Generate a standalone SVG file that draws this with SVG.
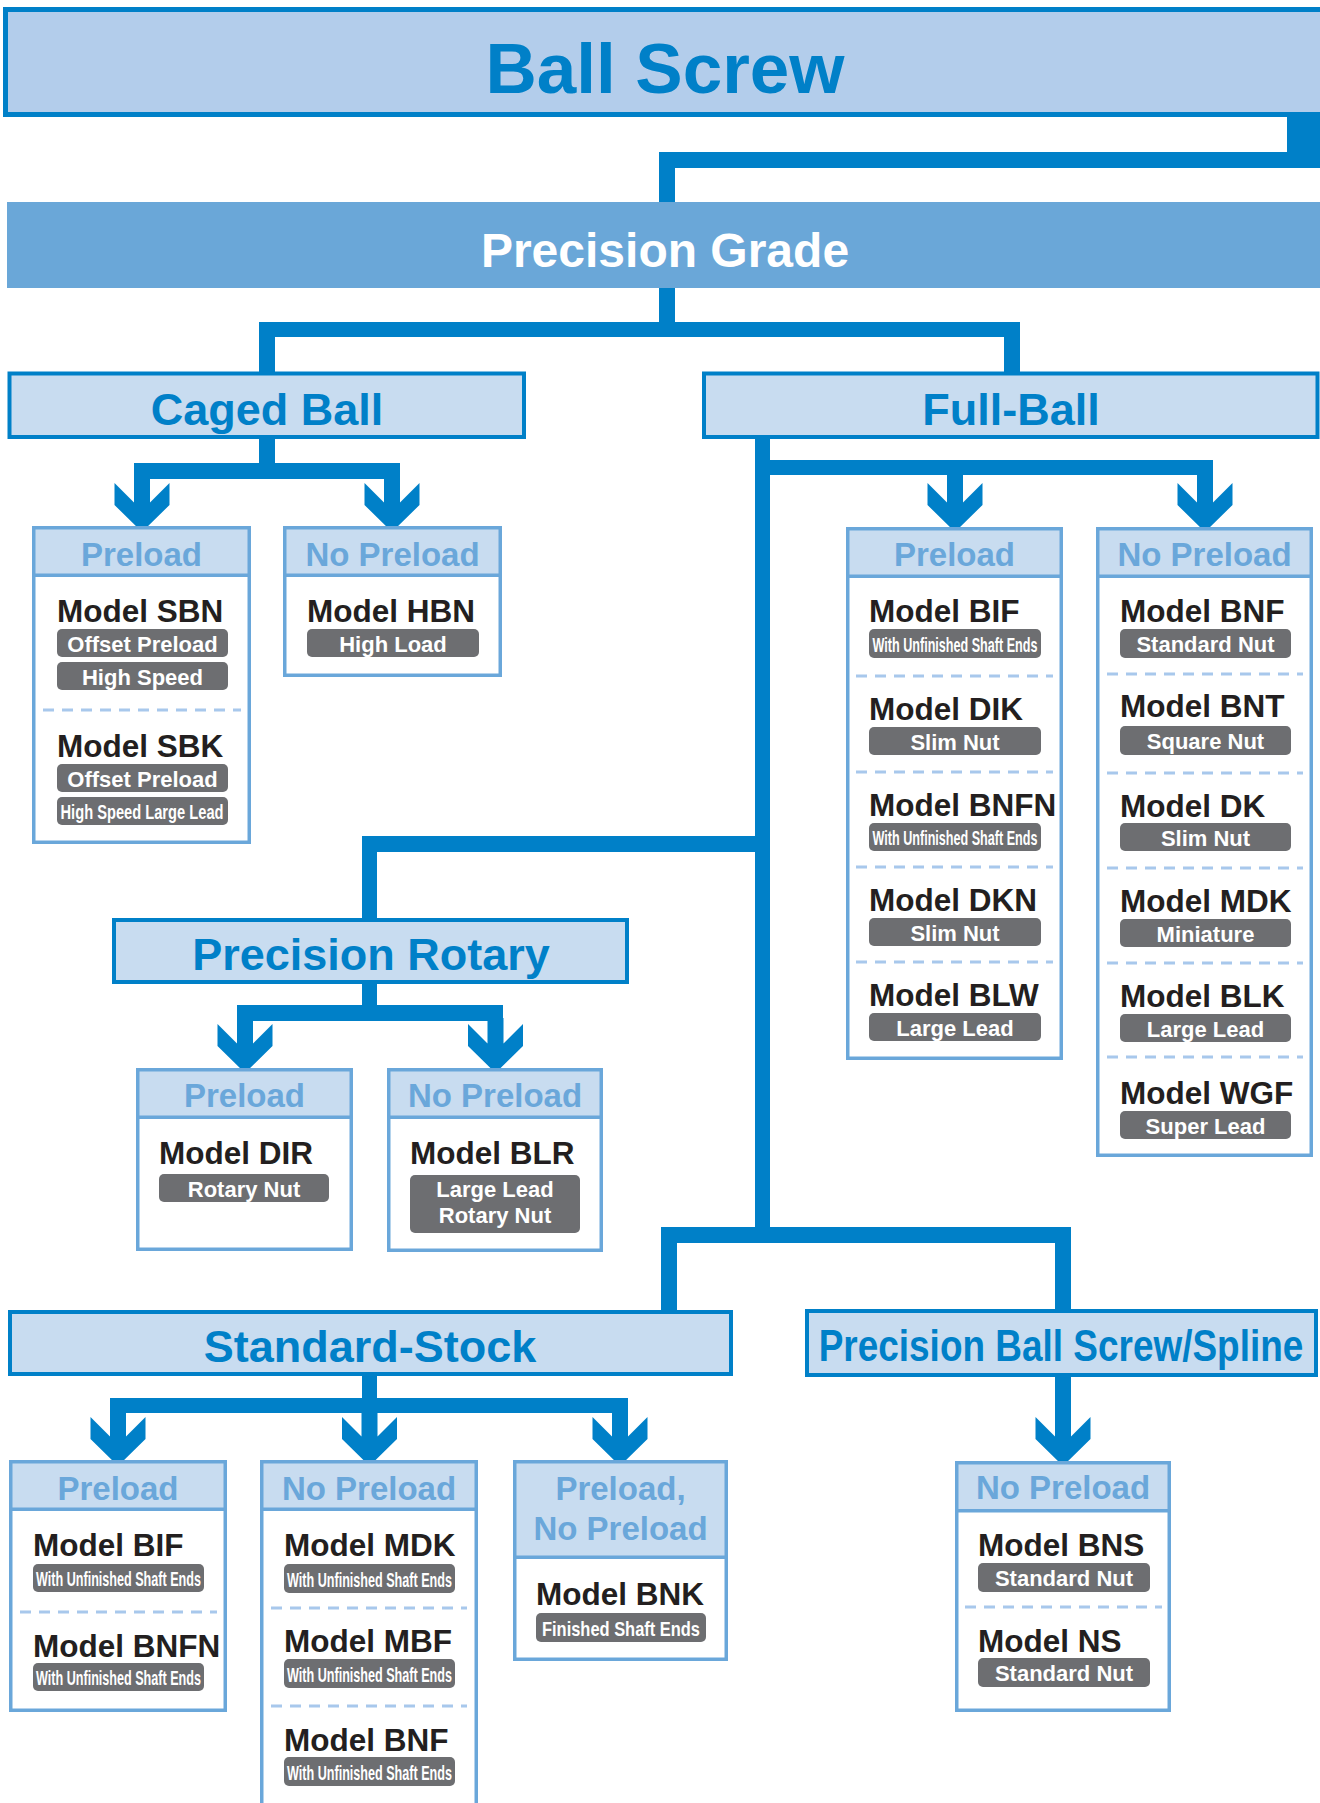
<svg xmlns="http://www.w3.org/2000/svg" xmlns:xlink="http://www.w3.org/1999/xlink" width="1320" height="1803" viewBox="0 0 1320 1803">
<style>
.cat{fill:#C8DCF0;stroke:#0080C8;stroke-width:4}
.ct{font:bold 45px "Liberation Sans",Arial,sans-serif;fill:#0080C8;text-anchor:middle}
.sb{fill:#fff;stroke:#6AA7DA;stroke-width:3.5}
.sh{fill:#C8DCF0;stroke:#6AA7DA;stroke-width:3.5}
.ht{font:bold 33px "Liberation Sans",Arial,sans-serif;fill:#6AA7DA;text-anchor:middle}
.m{font:bold 31.5px "Liberation Sans",Arial,sans-serif;fill:#231F20}
.tg{fill:#6D6E71}
.tt{font:bold 22px "Liberation Sans",Arial,sans-serif;fill:#fff;text-anchor:middle}
.tc{font:bold 21px "Liberation Sans",Arial,sans-serif;fill:#fff;text-anchor:middle}
.d{stroke:#A8C8EC;stroke-width:3;stroke-dasharray:11 8;fill:none}
.c{fill:#0080C8}
</style>
<defs>
<path id="ah" class="c" d="M-8,-6 V19.5 L-27.5,0 V22 L0,49 L27.5,22 V0 L8,19.5 V-6 Z"/>
</defs>
<rect width="1320" height="1803" fill="#fff"/>

<g id="connectors" class="c">
<rect x="1287" y="115" width="33" height="53"/>
<rect x="659" y="152" width="661" height="16"/>
<rect x="659" y="152" width="16" height="52"/>
<rect x="659" y="286" width="16" height="51"/>
<rect x="259" y="322" width="761" height="15"/>
<rect x="259" y="322" width="16" height="51"/>
<rect x="1004" y="322" width="16" height="51"/>
<rect x="259" y="437" width="16" height="42"/>
<rect x="134" y="463" width="266" height="16"/>
<rect x="134" y="463" width="16" height="26"/>
<rect x="384" y="463" width="16" height="26"/>
<use xlink:href="#ah" x="142" y="483"/>
<use xlink:href="#ah" x="392" y="483"/>
<rect x="755" y="437" width="15" height="806"/>
<rect x="755" y="460" width="458" height="15"/>
<rect x="947" y="460" width="16" height="29"/>
<rect x="1197" y="460" width="16" height="29"/>
<use xlink:href="#ah" x="955" y="483"/>
<use xlink:href="#ah" x="1205" y="483"/>
<rect x="362" y="836" width="408" height="16"/>
<rect x="362" y="836" width="15" height="84"/>
<rect x="362" y="982" width="15" height="39"/>
<rect x="237" y="1005" width="266" height="16"/>
<rect x="237" y="1005" width="16" height="25"/>
<rect x="488" y="1005" width="15" height="25"/>
<use xlink:href="#ah" x="245" y="1024"/>
<use xlink:href="#ah" x="495.5" y="1024"/>
<rect x="661" y="1227" width="410" height="16"/>
<rect x="661" y="1227" width="16" height="85"/>
<rect x="1055" y="1227" width="16" height="84"/>
<rect x="362" y="1374" width="15" height="39"/>
<rect x="110" y="1398" width="518" height="15"/>
<rect x="110" y="1398" width="16" height="25"/>
<rect x="362" y="1398" width="15" height="25"/>
<rect x="612" y="1398" width="16" height="25"/>
<use xlink:href="#ah" x="118" y="1417"/>
<use xlink:href="#ah" x="369.5" y="1417"/>
<use xlink:href="#ah" x="620" y="1417"/>
<rect x="1055" y="1375" width="16" height="48"/>
<use xlink:href="#ah" x="1063" y="1417"/>
</g>

<g id="ball-screw">
<rect x="5.5" y="9.5" width="1330" height="105" fill="#B3CDEB" stroke="#0080C8" stroke-width="5"/>
<text x="665" y="93" style="font:bold 71px 'Liberation Sans',Arial,sans-serif;fill:#0080C8;text-anchor:middle">Ball Screw</text>
</g>

<g id="precision-grade">
<rect x="7" y="202" width="1320" height="86" fill="#6AA7D8"/>
<text x="665" y="267" style="font:bold 48px 'Liberation Sans',Arial,sans-serif;fill:#fff;text-anchor:middle">Precision Grade</text>
</g>

<g id="caged-ball">
<rect class="cat" x="9.5" y="373.5" width="514.5" height="63.5"/>
<text class="ct" x="267" y="425">Caged Ball</text>
</g>

<g id="full-ball">
<rect class="cat" x="704" y="373.5" width="613.5" height="63.5"/>
<text class="ct" x="1011" y="425">Full-Ball</text>
</g>

<g id="precision-rotary">
<rect class="cat" x="114" y="920" width="513" height="62"/>
<text class="ct" x="371" y="970">Precision Rotary</text>
</g>

<g id="standard-stock">
<rect class="cat" x="10" y="1312" width="721" height="62"/>
<text class="ct" x="370" y="1362">Standard-Stock</text>
</g>

<g id="ball-screw-spline">
<rect class="cat" x="807" y="1311" width="509" height="64"/>
<text class="ct" transform="translate(1061,1361) scale(0.84,1)" x="0" y="0" style="font-size:44px">Precision Ball Screw/Spline</text>
</g>

<g id="caged-preload">
<rect class="sb" x="33.75" y="527.75" width="215.5" height="314.5"/>
<rect class="sh" x="33.75" y="527.75" width="215.5" height="47.5"/>
<text class="ht" x="141.5" y="566">Preload</text>
<text class="m" x="57" y="622">Model SBN</text>
<rect class="tg" x="57" y="629" width="171" height="28" rx="5"/>
<text class="tt" x="142.5" y="651.5">Offset Preload</text>
<rect class="tg" x="57" y="662" width="171" height="28" rx="5"/>
<text class="tt" x="142.5" y="684.5">High Speed</text>
<line class="d" x1="43" y1="710" x2="241" y2="710"/>
<text class="m" x="57" y="757">Model SBK</text>
<rect class="tg" x="57" y="764" width="171" height="28" rx="5"/>
<text class="tt" x="142.5" y="786.5">Offset Preload</text>
<rect class="tg" x="57" y="797" width="171" height="28" rx="5"/>
<text class="tc" x="142" y="819" textLength="163" lengthAdjust="spacingAndGlyphs">High Speed Large Lead</text>
</g>

<g id="caged-no-preload">
<rect class="sb" x="284.75" y="527.75" width="215.5" height="147.5"/>
<rect class="sh" x="284.75" y="527.75" width="215.5" height="47.5"/>
<text class="ht" x="392.5" y="566">No Preload</text>
<text class="m" x="307" y="622">Model HBN</text>
<rect class="tg" x="307" y="629" width="172" height="28" rx="5"/>
<text class="tt" x="393" y="651.5">High Load</text>
</g>

<g id="full-preload">
<rect class="sb" x="847.75" y="528.75" width="213.5" height="529.5"/>
<rect class="sh" x="847.75" y="528.75" width="213.5" height="47.5"/>
<text class="ht" x="954.5" y="566">Preload</text>
<text class="m" x="869" y="622">Model BIF</text>
<rect class="tg" x="869" y="629" width="172" height="29" rx="5"/>
<text class="tc" x="955" y="651.5" textLength="165" lengthAdjust="spacingAndGlyphs">With Unfinished Shaft Ends</text>
<line class="d" x1="856" y1="676" x2="1053" y2="676"/>
<text class="m" x="869" y="720">Model DIK</text>
<rect class="tg" x="869" y="727" width="172" height="28" rx="5"/>
<text class="tt" x="955" y="749.5">Slim Nut</text>
<line class="d" x1="856" y1="772" x2="1053" y2="772"/>
<text class="m" x="869" y="816">Model BNFN</text>
<rect class="tg" x="869" y="823" width="172" height="28" rx="5"/>
<text class="tc" x="955" y="845" textLength="165" lengthAdjust="spacingAndGlyphs">With Unfinished Shaft Ends</text>
<line class="d" x1="856" y1="867" x2="1053" y2="867"/>
<text class="m" x="869" y="911">Model DKN</text>
<rect class="tg" x="869" y="918" width="172" height="28" rx="5"/>
<text class="tt" x="955" y="940.5">Slim Nut</text>
<line class="d" x1="856" y1="962" x2="1053" y2="962"/>
<text class="m" x="869" y="1006">Model BLW</text>
<rect class="tg" x="869" y="1013" width="172" height="28" rx="5"/>
<text class="tt" x="955" y="1035.5">Large Lead</text>
</g>

<g id="full-no-preload">
<rect class="sb" x="1097.75" y="528.75" width="213.5" height="626.5"/>
<rect class="sh" x="1097.75" y="528.75" width="213.5" height="47.5"/>
<text class="ht" x="1204.5" y="566">No Preload</text>
<text class="m" x="1120" y="622">Model BNF</text>
<rect class="tg" x="1120" y="629" width="171" height="29" rx="5"/>
<text class="tt" x="1205.5" y="652">Standard Nut</text>
<line class="d" x1="1107" y1="674" x2="1303" y2="674"/>
<text class="m" x="1120" y="717">Model BNT</text>
<rect class="tg" x="1120" y="726" width="171" height="29" rx="5"/>
<text class="tt" x="1205.5" y="749">Square Nut</text>
<line class="d" x1="1107" y1="773" x2="1303" y2="773"/>
<text class="m" x="1120" y="817">Model DK</text>
<rect class="tg" x="1120" y="823" width="171" height="28" rx="5"/>
<text class="tt" x="1205.5" y="845.5">Slim Nut</text>
<line class="d" x1="1107" y1="868" x2="1303" y2="868"/>
<text class="m" x="1120" y="912">Model MDK</text>
<rect class="tg" x="1120" y="919" width="171" height="28" rx="5"/>
<text class="tt" x="1205.5" y="941.5">Miniature</text>
<line class="d" x1="1107" y1="963" x2="1303" y2="963"/>
<text class="m" x="1120" y="1007">Model BLK</text>
<rect class="tg" x="1120" y="1014" width="171" height="28" rx="5"/>
<text class="tt" x="1205.5" y="1036.5">Large Lead</text>
<line class="d" x1="1107" y1="1057" x2="1303" y2="1057"/>
<text class="m" x="1120" y="1104">Model WGF</text>
<rect class="tg" x="1120" y="1111" width="171" height="28" rx="5"/>
<text class="tt" x="1205.5" y="1133.5">Super Lead</text>
</g>

<g id="rotary-preload">
<rect class="sb" x="137.75" y="1069.75" width="213.5" height="179.5"/>
<rect class="sh" x="137.75" y="1069.75" width="213.5" height="47.5"/>
<text class="ht" x="244.5" y="1107">Preload</text>
<text class="m" x="159" y="1164">Model DIR</text>
<rect class="tg" x="159" y="1174" width="170" height="28" rx="5"/>
<text class="tt" x="244" y="1196.5">Rotary Nut</text>
</g>

<g id="rotary-no-preload">
<rect class="sb" x="388.75" y="1069.75" width="212.5" height="180.5"/>
<rect class="sh" x="388.75" y="1069.75" width="212.5" height="47.5"/>
<text class="ht" x="495" y="1107">No Preload</text>
<text class="m" x="410" y="1164">Model BLR</text>
<rect class="tg" x="410" y="1175" width="170" height="58" rx="5"/>
<text class="tt" x="495" y="1197">Large Lead</text>
<text class="tt" x="495" y="1223">Rotary Nut</text>
</g>

<g id="stock-preload">
<rect class="sb" x="10.75" y="1461.75" width="214.5" height="248.5"/>
<rect class="sh" x="10.75" y="1461.75" width="214.5" height="47.5"/>
<text class="ht" x="118" y="1499.5">Preload</text>
<text class="m" x="33" y="1556">Model BIF</text>
<rect class="tg" x="33" y="1564" width="171" height="28" rx="5"/>
<text class="tc" x="118.5" y="1586" textLength="165" lengthAdjust="spacingAndGlyphs">With Unfinished Shaft Ends</text>
<line class="d" x1="20" y1="1612" x2="217" y2="1612"/>
<text class="m" x="33" y="1657">Model BNFN</text>
<rect class="tg" x="33" y="1663" width="171" height="28" rx="5"/>
<text class="tc" x="118.5" y="1685" textLength="165" lengthAdjust="spacingAndGlyphs">With Unfinished Shaft Ends</text>
</g>

<g id="stock-no-preload">
<rect class="sb" x="261.75" y="1461.75" width="214.5" height="400"/>
<rect class="sh" x="261.75" y="1461.75" width="214.5" height="47.5"/>
<text class="ht" x="369" y="1499.5">No Preload</text>
<text class="m" x="284" y="1556">Model MDK</text>
<rect class="tg" x="284" y="1564" width="171" height="29" rx="5"/>
<text class="tc" x="369.5" y="1586.5" textLength="165" lengthAdjust="spacingAndGlyphs">With Unfinished Shaft Ends</text>
<line class="d" x1="271" y1="1608" x2="467" y2="1608"/>
<text class="m" x="284" y="1652">Model MBF</text>
<rect class="tg" x="284" y="1659" width="171" height="29" rx="5"/>
<text class="tc" x="369.5" y="1681.5" textLength="165" lengthAdjust="spacingAndGlyphs">With Unfinished Shaft Ends</text>
<line class="d" x1="271" y1="1706" x2="467" y2="1706"/>
<text class="m" x="284" y="1751">Model BNF</text>
<rect class="tg" x="284" y="1757" width="171" height="29" rx="5"/>
<text class="tc" x="369.5" y="1779.5" textLength="165" lengthAdjust="spacingAndGlyphs">With Unfinished Shaft Ends</text>
</g>

<g id="stock-preload-no-preload">
<rect class="sb" x="514.75" y="1461.75" width="211.5" height="197.5"/>
<rect class="sh" x="514.75" y="1461.75" width="211.5" height="95.5"/>
<text class="ht" x="620.5" y="1499.5">Preload,</text>
<text class="ht" x="620.5" y="1540">No Preload</text>
<text class="m" x="536" y="1605">Model BNK</text>
<rect class="tg" x="536" y="1613" width="170" height="29" rx="5"/>
<text class="tc" x="621" y="1635.5" textLength="158" lengthAdjust="spacingAndGlyphs">Finished Shaft Ends</text>
</g>

<g id="spline-no-preload">
<rect class="sb" x="956.75" y="1462.75" width="212.5" height="247.5"/>
<rect class="sh" x="956.75" y="1462.75" width="212.5" height="48"/>
<text class="ht" x="1063" y="1499">No Preload</text>
<text class="m" x="978" y="1556">Model BNS</text>
<rect class="tg" x="978" y="1563" width="172" height="29" rx="5"/>
<text class="tt" x="1064" y="1586">Standard Nut</text>
<line class="d" x1="965" y1="1607" x2="1162" y2="1607"/>
<text class="m" x="978" y="1652">Model NS</text>
<rect class="tg" x="978" y="1658" width="172" height="29" rx="5"/>
<text class="tt" x="1064" y="1681">Standard Nut</text>
</g>
</svg>
